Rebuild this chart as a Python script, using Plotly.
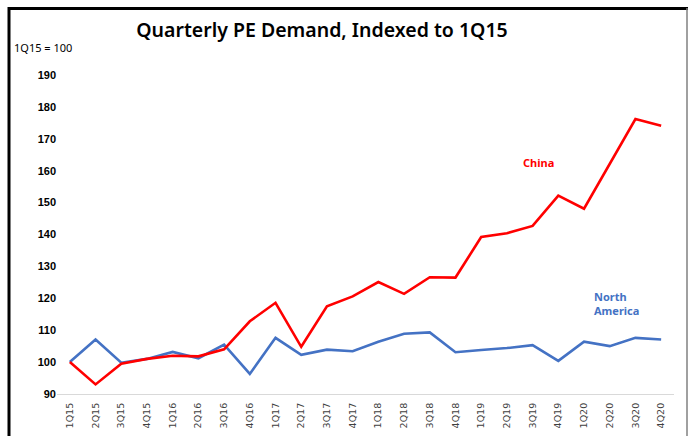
import plotly.graph_objects as go

quarters = ["1Q15", "2Q15", "3Q15", "4Q15", "1Q16", "2Q16", "3Q16", "4Q16",
            "1Q17", "2Q17", "3Q17", "4Q17", "1Q18", "2Q18", "3Q18", "4Q18",
            "1Q19", "2Q19", "3Q19", "4Q19", "1Q20", "2Q20", "3Q20", "4Q20"]

north_america = [100, 107.1, 99.8, 101.0, 103.2, 101.2, 105.5, 96.3,
                 107.6, 102.3, 103.9, 103.4, 106.4, 108.9, 109.3, 103.1,
                 103.8, 104.4, 105.3, 100.4, 106.4, 105.0, 107.6, 107.1]

china = [100, 93.0, 99.5, 101.0, 102.0, 101.8, 104.0, 112.8,
         118.6, 104.8, 117.5, 120.6, 125.1, 121.4, 126.6, 126.5,
         139.2, 140.4, 142.7, 152.2, 148.1, 162.3, 176.2, 174.1]

y_ticks = [90, 100, 110, 120, 130, 140, 150, 160, 170, 180, 190]

W, H = 688, 436
L, R, T, B = 57, 14, 75, 42
pw, ph = W - L - R, H - T - B


def px_x(p):
    return (p - L) / pw


def px_y(p):
    return (H - B - p) / ph


fig = go.Figure()
fig.add_trace(go.Scatter(x=quarters, y=north_america, mode="lines",
                         line=dict(color="#4472C4", width=2.6), name="North America"))
fig.add_trace(go.Scatter(x=quarters, y=china, mode="lines",
                         line=dict(color="#FF0000", width=2.6), name="China"))

fig.update_layout(
    width=W, height=H,
    margin=dict(l=L, r=R, t=T, b=B, autoexpand=False),
    paper_bgcolor="white", plot_bgcolor="white",
    showlegend=False,
    title=dict(text="Quarterly PE Demand, Indexed to 1Q15",
               x=322 / W, xanchor="center", y=1 - 30 / H, yanchor="middle",
               font=dict(family="Noto Sans", size=19.5, color="#000000", weight=600)),
    xaxis=dict(type="category", range=[-0.5, 23.5], showgrid=False, automargin=False,
               showline=True, linecolor="#D9D9D9", linewidth=1,
               ticks="outside", ticklen=4, tickcolor="rgba(0,0,0,0)", tickangle=-90,
               tickfont=dict(family="DejaVu Sans", size=9.5, color="#404040")),
    yaxis=dict(range=[90, 190], tickvals=y_ticks, showgrid=False, automargin=False,
               showline=False, zeroline=False, ticks="",
               tickfont=dict(family="Liberation Sans", size=11, color="#000000", weight="bold")),
)

fig.add_annotation(text="1Q15 = 100", xref="paper", yref="paper",
                   x=px_x(12), y=px_y(48), xanchor="left", yanchor="middle",
                   showarrow=False, font=dict(family="Noto Sans", size=11, color="#000000"))
fig.add_annotation(text="<b>China</b>", xref="paper", yref="paper",
                   x=px_x(538), y=px_y(162), xanchor="center", yanchor="middle",
                   showarrow=False, font=dict(family="Noto Sans", size=11, color="#FF0000"))
fig.add_annotation(text="<b>North<br>America</b>", xref="paper", yref="paper",
                   x=px_x(592), y=px_y(303), xanchor="left", yanchor="middle", align="left",
                   showarrow=False, font=dict(family="Noto Sans", size=11, color="#4472C4"))

# frame
fig.add_shape(type="line", xref="paper", yref="paper",
              x0=px_x(8), x1=px_x(688), y0=px_y(8.5), y1=px_y(8.5),
              line=dict(color="#000000", width=3))
fig.add_shape(type="line", xref="paper", yref="paper",
              x0=px_x(9), x1=px_x(9), y0=px_y(7), y1=px_y(437),
              line=dict(color="#000000", width=3))
fig.add_shape(type="line", xref="paper", yref="paper",
              x0=px_x(687), x1=px_x(687), y0=px_y(8), y1=px_y(437),
              line=dict(color="#808080", width=1.5))

fig.write_html("out.html", config={"displayModeBar": False},
               post_script="document.body.style.margin='0';document.body.style.overflow='hidden';")
